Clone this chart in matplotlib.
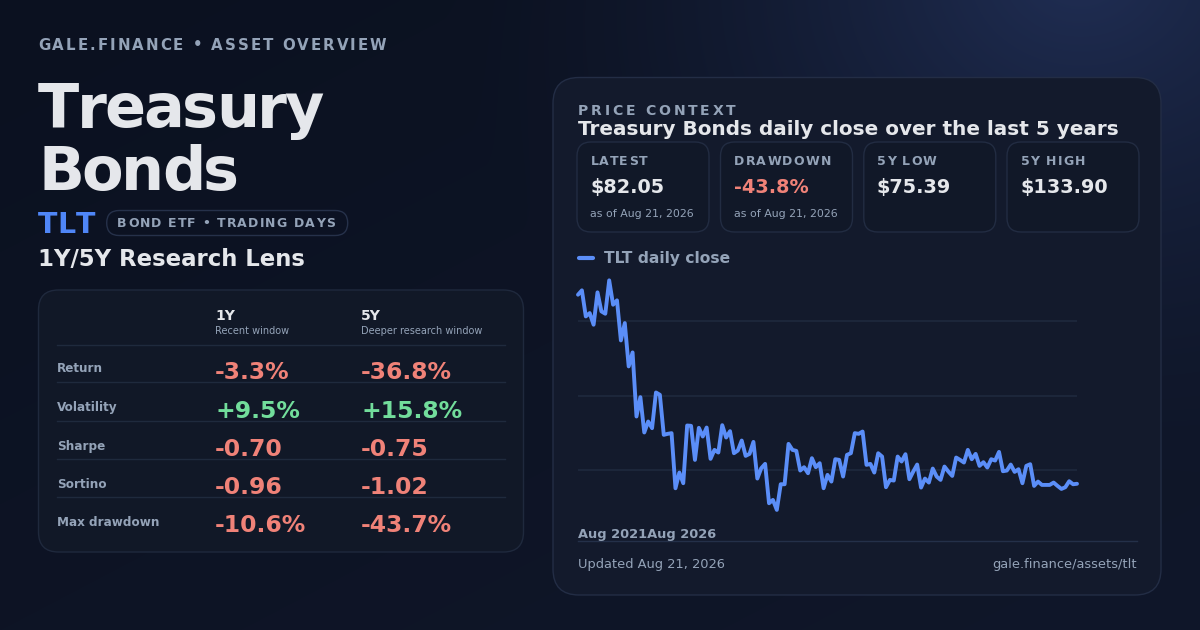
import numpy as np
import matplotlib
matplotlib.use("Agg")
import matplotlib.pyplot as plt
from matplotlib.patches import FancyBboxPatch
from matplotlib.font_manager import FontProperties, findfont, get_font

# ---------------- data ----------------
brand = "GALE.FINANCE • ASSET OVERVIEW"
asset_name = ["Treasury", "Bonds"]
ticker = "TLT"
pill_text = "BOND ETF • TRADING DAYS"
lens_title = "1Y/5Y Research Lens"

windows = ["1Y", "5Y"]
window_notes = ["Recent window", "Deeper research window"]
metrics = ["Return", "Volatility", "Sharpe", "Sortino", "Max drawdown"]
values_1y = ["-3.3%", "+9.5%", "-0.70", "-0.96", "-10.6%"]
values_5y = ["-36.8%", "+15.8%", "-0.75", "-1.02", "-43.7%"]

card_labels = ["LATEST", "DRAWDOWN", "5Y LOW", "5Y HIGH"]
card_values = ["$82.05", "-43.8%", "$75.39", "$133.90"]
card_notes = ["as of Aug 21, 2026", "as of Aug 21, 2026", "", ""]

section_label = "PRICE CONTEXT"
chart_title = "Treasury Bonds daily close over the last 5 years"
series_name = "TLT daily close"
x_labels = ["Aug 2021", "Aug 2026"]
footer_left = "Updated Aug 21, 2026"
footer_right = "gale.finance/assets/tlt"

close_prices = [
    130.24, 131.35, 124.71, 125.56, 122.59, 130.84, 125.99, 125.39, 133.90, 127.69,
    128.80, 118.59, 123.01, 111.96, 115.53, 99.20, 104.13, 95.12, 97.92, 96.22,
    105.32, 104.73, 94.52, 94.78, 94.95, 80.91, 84.91, 82.19, 96.90, 96.82,
    88.14, 96.31, 94.10, 96.39, 88.40, 90.69, 90.01, 96.99, 93.84, 95.46,
    89.84, 90.52, 93.07, 89.16, 89.67, 92.73, 83.38, 86.01, 87.12, 77.09,
    77.94, 75.39, 81.93, 81.93, 92.22, 90.69, 90.44, 85.42, 86.27, 84.74,
    88.57, 86.27, 87.29, 80.91, 84.32, 82.61, 88.31, 88.14, 83.89, 89.42,
    89.84, 94.95, 94.78, 95.37, 86.87, 87.12, 84.91, 89.84, 88.99, 81.17,
    83.04, 82.87, 88.99, 87.72, 89.59, 83.21, 85.17, 86.95, 81.08, 83.38,
    82.36, 85.93, 83.89, 83.04, 86.44, 85.17, 84.06, 88.74, 88.14, 87.46,
    90.69, 88.31, 89.67, 86.61, 87.55, 86.19, 88.31, 87.97, 90.18, 85.25,
    85.42, 86.95, 85.08, 85.76, 82.19, 86.61, 87.04, 81.51, 82.61, 81.76,
    81.76, 81.76, 82.36, 81.51, 80.74, 81.17, 82.70, 81.93, 82.05,
]

# ---------------- style ----------------
W, H = 1200, 630
WHITE = "#e5e7eb"
GRAY = "#94a3b8"
RED = "#f08278"
GREEN = "#72dd9b"
BLUE_T = "#4f86f7"
LINE = "#5b8ef8"
GRID = "#1f2a3f"

fig = plt.figure(figsize=(12, 6.3), dpi=100)
bg = fig.add_axes([0, 0, 1, 1])
bg.set_xlim(0, W)
bg.set_ylim(H, 0)
bg.axis("off")

# background gradient with glow top-right
yy, xx = np.mgrid[0:H, 0:W].astype(float)
c0 = np.array([11, 17, 32]) / 255
c1 = np.array([16, 23, 42]) / 255
t = (xx / W * 0.5 + yy / H * 0.5)[..., None]
img = c0 * (1 - t) + c1 * t
d = np.sqrt((xx - 1080) ** 2 + ((yy + 30) * 1.2) ** 2)
glow = (np.clip(1 - d / 640, 0, 1) ** 1.6)[..., None]
gcol = np.array([32, 46, 84]) / 255
img = img * (1 - glow) + gcol * glow
bg.imshow(img, extent=(0, W, H, 0), aspect="auto", zorder=0)


def rbox(x, y, w, h, r, fc, ec, lw=1.0, z=1):
    p = FancyBboxPatch((x, y), w, h, boxstyle=f"round,pad=0,rounding_size={r}",
                       facecolor=fc, edgecolor=ec, linewidth=lw, zorder=z)
    bg.add_patch(p)


def text(x, base, s, px, color, weight="normal", ha="left", z=5):
    bg.text(x, base, s, fontsize=px * 0.72, fontweight=weight, color=color,
            ha=ha, va="baseline", family="DejaVu Sans", zorder=z)


def spaced(x, base, s, px, color, weight="bold", width=None, spacing=0.0, ha="left", z=5):
    """Letter-spaced text: glyphs placed one by one from their pen origin."""
    size = px * 0.72
    fp = FontProperties(family="DejaVu Sans", weight=weight, size=size)
    font = get_font(findfont(fp))
    font.set_size(size, 100)
    advs, inks = [], []
    for ch in s:
        g = font.load_char(ord(ch))
        advs.append(g.linearHoriAdvance / 65536.0)
        inks.append((g.horiBearingX + g.width) / 64.0)
    n = len(s)
    natural = sum(advs[:-1]) + inks[-1]
    if width is not None and n > 1:
        spacing = (width - natural) / (n - 1)
    total = natural + spacing * (n - 1)
    cur = x - total if ha == "right" else x
    for ch, a in zip(s, advs):
        if ch != " ":
            bg.text(cur, base, ch, fontproperties=fp, color=color,
                    ha="left", va="baseline", zorder=z)
        cur += a + spacing


# ---------------- left side ----------------
spaced(38, 49.5, brand, 15, GRAY, width=348)
spaced(38, 127.5, asset_name[0], 60.5, WHITE, width=284.7)
spaced(38, 190, asset_name[1], 60.5, WHITE, width=198)
spaced(38, 233.3, ticker, 28.5, BLUE_T, width=57)
rbox(106.7, 210.5, 241, 25, 12.5, "none", "#26314a", lw=1.0)
spaced(117.3, 227.3, pill_text, 12.5, GRAY, width=216.7)
text(38, 266.5, lens_title, 22.8, WHITE, weight="bold")

# table card
rbox(38.5, 290, 485, 262, 20, "#111827", "#1f293d", lw=1.0)
col_x = [215, 361]
for cx, wname, wnote in zip(col_x, windows, window_notes):
    text(cx, 320.5, wname, 14, WHITE, weight="bold")
    text(cx, 333.5, wnote, 9.8, GRAY)
sep_y = [345.3, 382.3, 421.3, 459.3, 497.3]
for sy in sep_y:
    bg.plot([57, 505], [sy, sy], color="#1f2a3d", lw=1.0, zorder=2)
label_base = [371.5, 410.5, 449.8, 487.5, 525.5]
value_base = [379.0, 417.7, 455.7, 494.0, 532.3]


def vcolor(v):
    return GREEN if v.startswith("+") else (RED if v.startswith("-") else WHITE)


for lb, vb, m, v1, v5 in zip(label_base, value_base, metrics, values_1y, values_5y):
    text(57, lb, m, 12, GRAY, weight="bold")
    text(col_x[0], vb, v1, 23.5, vcolor(v1), weight="bold")
    text(col_x[1], vb, v5, 23.5, vcolor(v5), weight="bold")

# ---------------- right panel ----------------
rbox(553, 77.5, 608, 517.5, 26, "#131a2c", "#232d45", lw=1.0)
spaced(577.7, 115, section_label, 14, GRAY, width=158)
text(577.7, 135, chart_title, 20, WHITE, weight="bold")

card_x = [577, 720.5, 863.8, 1007]
label_w = [56.6, 95.7, 58.9, 64.0]
for cx, lab, lw_, val, note in zip(card_x, card_labels, label_w, card_values, card_notes):
    rbox(cx, 142, 132, 90, 14, "#111828", "#222c42", lw=1.0)
    spaced(cx + 13.5, 165.3, lab, 12.5, GRAY, width=lw_)
    vc = RED if val.startswith("-") else WHITE
    text(cx + 13.2, 193.3, val, 19.3, vc, weight="bold")
    if note:
        text(cx + 13.5, 217.3, note, 11, GRAY)

# legend
bg.plot([579, 593], [257.7, 257.7], color=LINE, lw=3.0, solid_capstyle="round", zorder=5)
text(604, 263, series_name, 15.5, GRAY, weight="bold")

# x labels (drawn back to back as in the reference)
text(577.5, 538.3, "".join(x_labels), 13, GRAY, weight="bold")
bg.plot([577.5, 1136.5], [541, 541], color="#243049", lw=1.0, zorder=2)
text(577.5, 568.3, footer_left, 13, GRAY)
text(1136.5, 568.3, footer_right, 13, GRAY, ha="right")

# ---------------- chart ----------------
ax = fig.add_axes([578 / W, 1 - 544 / H, 499 / W, 297 / H])
ax.set_facecolor("none")
ax.set_axis_off()
n = len(close_prices)
ylo, yhi = 66.7, 142.4
ax.set_xlim(0, n - 1)
ax.set_ylim(ylo, yhi)
for k in (1, 2, 3):
    ax.axhline(ylo + (yhi - ylo) * k / 4, color=GRID, lw=1.1, zorder=1)
ax.plot(np.arange(n), close_prices, color=LINE, lw=2.8, clip_on=False,
        solid_joinstyle="round", solid_capstyle="round", zorder=3)

fig.savefig("out.png", dpi=100)
